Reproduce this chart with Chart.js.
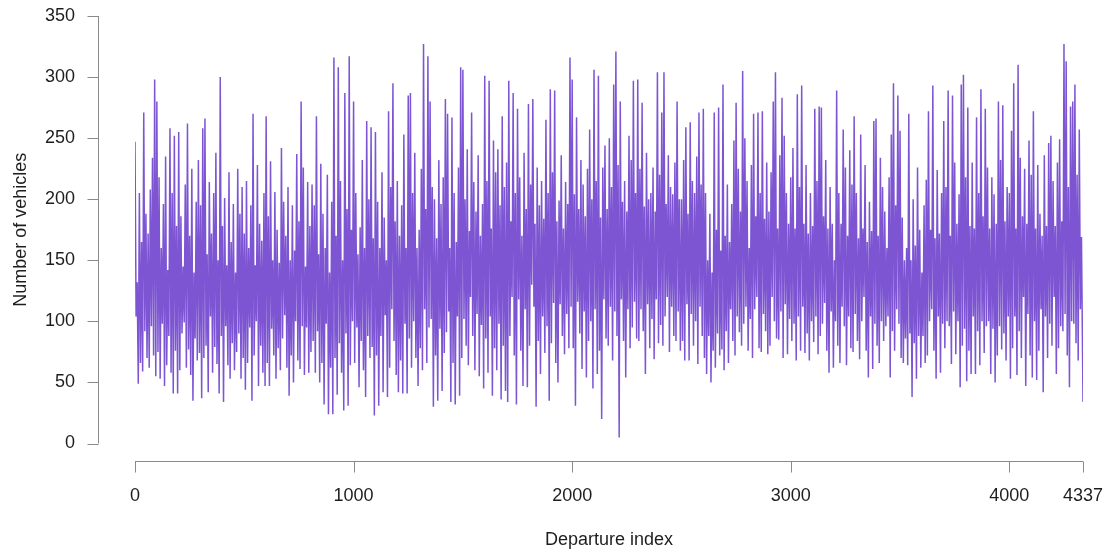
<!DOCTYPE html>
<html>
<head>
<meta charset="utf-8">
<title>Number of vehicles by departure index</title>
<script src="https://cdn.jsdelivr.net/npm/chart.js@4.4.1/dist/chart.umd.min.js"></script>
<style>
  html, body { margin: 0; padding: 0; background: #ffffff; }
  #wrap { width: 1107px; height: 554px; position: relative; }
</style>
</head>
<body>
<div id="wrap"><canvas id="myChart"></canvas></div>
<script>
// vehicles per departure, read in blocks of 10 departures:
// highVehicles = upper reading (departure 10*i), lowVehicles = lower reading (departure 10*i+5)
var highVehicles = [
    247, 132, 205, 165, 271, 188, 172, 208, 234, 298,
    280, 218, 160, 196, 235, 142, 258, 205, 252, 178,
    255, 186, 145, 212, 262, 170, 225, 140, 198, 232,
    195, 258, 266, 155, 214, 172, 205, 238, 150, 300,
    178, 201, 146, 222, 165, 196, 140, 225, 188, 210,
    172, 215, 160, 195, 270, 146, 228, 180, 166, 205,
    268, 186, 231, 150, 206, 175, 148, 242, 198, 170,
    210, 150, 195, 158, 237, 182, 280, 226, 145, 214,
    178, 212, 195, 268, 155, 229, 188, 160, 220, 140,
    198, 316, 170, 308, 215, 150, 287, 192, 317, 175,
    280, 205, 155, 177, 232, 160, 264, 200, 259, 168,
    255, 198, 160, 222, 185, 150, 272, 210, 295, 182,
    215, 170, 195, 253, 160, 285, 287, 205, 238, 160,
    175, 225, 327, 192, 317, 280, 210, 200, 168, 232,
    196, 218, 282, 270, 160, 267, 205, 165, 226, 308,
    306, 200, 241, 174, 271, 214, 190, 236, 170, 196,
    301, 215, 297, 176, 248, 222, 241, 195, 268, 210,
    230, 297, 182, 287, 205, 274, 218, 170, 238, 192,
    278, 212, 282, 180, 226, 195, 215, 184, 265, 205,
    290, 222, 289, 182, 199, 236, 176, 214, 196, 316,
    298, 204, 267, 192, 232, 212, 186, 225, 257, 200,
    306, 215, 301, 185, 226, 244, 192, 250, 210, 294,
    321, 228, 280, 198, 215, 190, 252, 232, 297, 205,
    298, 225, 279, 194, 238, 200, 205, 226, 190, 304,
    220, 271, 304, 196, 236, 210, 204, 230, 280, 200,
    200, 232, 259, 188, 263, 215, 205, 235, 271, 212,
    274, 205, 150, 188, 140, 271, 175, 275, 158, 294,
    170, 212, 165, 196, 248, 279, 225, 190, 305, 250,
    215, 160, 228, 270, 186, 271, 205, 272, 184, 230,
    190, 222, 280, 304, 176, 236, 283, 252, 205, 180,
    218, 242, 176, 286, 210, 293, 180, 228, 172, 205,
    178, 274, 215, 276, 275, 186, 232, 176, 210, 180,
    150, 289, 205, 180, 257, 226, 170, 240, 212, 268,
    205, 168, 253, 176, 228, 165, 198, 174, 264, 266,
    170, 234, 210, 190, 160, 218, 253, 295, 195, 285,
    256, 185, 150, 160, 270, 150, 200, 162, 226, 175,
    140, 195, 216, 272, 175, 293, 168, 224, 172, 205,
    264, 210, 289, 170, 285, 230, 180, 204, 294, 302,
    218, 275, 178, 230, 176, 267, 205, 290, 186, 274,
    226, 176, 218, 204, 180, 280, 232, 277, 182, 210,
    205, 256, 295, 176, 310, 234, 186, 225, 180, 248,
    220, 272, 176, 228, 188, 170, 236, 178, 246, 252,
    215, 178, 230, 249, 182, 327, 313, 210, 276, 280,
    294, 220, 257, 169
];
var lowVehicles = [
    104, 49, 66, 59, 92, 70, 62, 96, 72, 55,
    75, 53, 98, 47, 64, 88, 58, 41, 76, 41,
    60, 90, 99, 62, 77, 56, 35, 86, 68, 74,
    37, 70, 80, 42, 104, 58, 79, 65, 41, 88,
    34, 96, 64, 53, 82, 60, 75, 90, 53, 70,
    44, 66, 95, 35, 72, 100, 47, 80, 58, 47,
    66, 47, 94, 72, 53, 78, 60, 86, 105, 62,
    39, 72, 50, 100, 68, 61, 96, 56, 95, 58,
    75, 84, 58, 92, 50, 66, 32, 98, 24, 62,
    24, 70, 40, 82, 58, 27, 90, 31, 64, 100,
    66, 95, 46, 84, 60, 38, 88, 70, 79, 23,
    72, 31, 88, 42, 105, 38, 62, 110, 84, 56,
    42, 68, 41, 98, 41, 86, 62, 100, 70, 47,
    78, 60, 110, 66, 95, 102, 30, 72, 35, 94,
    43, 74, 91, 108, 34, 66, 32, 104, 39, 70,
    102, 80, 64, 120, 88, 60, 106, 55, 97, 45,
    86, 58, 104, 39, 78, 60, 98, 36, 80, 43,
    34, 88, 120, 72, 32, 118, 76, 47, 110, 46,
    80, 130, 112, 30, 84, 57, 104, 74, 96, 35,
    82, 115, 66, 50, 114, 88, 73, 106, 78, 112,
    78, 31, 116, 90, 61, 108, 54, 84, 100, 45,
    110, 57, 76, 20, 118, 86, 80, 112, 68, 108,
    88, 5, 118, 84, 54, 110, 78, 95, 116, 86,
    84, 110, 92, 57, 114, 78, 102, 69, 118, 82,
    97, 80, 104, 120, 75, 112, 88, 84, 108, 76,
    84, 68, 114, 68, 106, 80, 100, 65, 112, 88,
    70, 57, 88, 50, 76, 62, 90, 72, 77, 60,
    92, 66, 110, 84, 72, 104, 91, 80, 98, 112,
    76, 102, 70, 110, 120, 78, 75, 106, 92, 73,
    80, 120, 100, 86, 85, 108, 70, 114, 73, 102,
    84, 98, 68, 104, 76, 112, 74, 90, 68, 100,
    83, 104, 73, 88, 98, 115, 76, 58, 108, 62,
    100, 80, 66, 112, 96, 64, 104, 78, 75, 106,
    84, 69, 100, 120, 76, 54, 104, 61, 98, 80,
    66, 100, 84, 96, 104, 54, 92, 76, 110, 98,
    70, 66, 86, 64, 90, 38, 82, 53, 88, 62,
    88, 66, 72, 100, 110, 76, 53, 104, 58, 98,
    78, 100, 96, 65, 108, 73, 100, 46, 80, 94,
    51, 76, 57, 104, 57, 92, 64, 100, 74, 96,
    100, 57, 94, 50, 72, 96, 77, 90, 68, 104,
    53, 78, 104, 56, 92, 70, 120, 47, 106, 72,
    54, 100, 52, 76, 110, 42, 104, 70, 98, 80,
    120, 57, 78, 96, 92, 106, 72, 46, 100, 98,
    82, 68, 110, 34
];
var lastDeparture = 4337;
var xTicks = [0, 1000, 2000, 3000, 4000, 4337];
var yTicks = [0, 50, 100, 150, 200, 250, 300, 350];
var xTitle = 'Departure index';
var yTitle = 'Number of vehicles';

document.addEventListener('DOMContentLoaded', function () {
    var ctx = document.getElementById('myChart').getContext('2d');

    var points = [];
    for (var i = 0; i < highVehicles.length; i++) {
        points.push({ x: i * 10, y: highVehicles[i] });
        var lx = (i === highVehicles.length - 1) ? lastDeparture : i * 10 + 5;
        points.push({ x: lx, y: lowVehicles[i] });
    }

    var textColor = '#1e1e1e';
    var axisColor = '#8a8a8a';
    var font = { family: '"Liberation Sans", Arial, Helvetica, sans-serif', size: 18 };

    // R-like detached axes
    var rAxes = {
        id: 'rAxes',
        afterDraw: function (chart) {
            var c = chart.ctx;
            var xs = chart.scales.x, ys = chart.scales.y;
            var area = chart.chartArea;
            var ax = Math.round(area.left - 37.5) + 0.5;
            var ay = Math.round(area.bottom + 17.5) + 0.5;
            c.save();
            c.strokeStyle = axisColor;
            c.lineWidth = 1;
            c.beginPath();
            c.moveTo(ax, ys.getPixelForValue(yTicks[0]));
            c.lineTo(ax, ys.getPixelForValue(yTicks[yTicks.length - 1]));
            yTicks.forEach(function (t) {
                var py = Math.round(ys.getPixelForValue(t)) + 0.5;
                c.moveTo(ax, py);
                c.lineTo(ax - 11, py);
            });
            c.moveTo(xs.getPixelForValue(xTicks[0]), ay);
            c.lineTo(xs.getPixelForValue(xTicks[xTicks.length - 1]), ay);
            xTicks.forEach(function (t) {
                var px = Math.round(xs.getPixelForValue(t)) + 0.5;
                c.moveTo(px, ay);
                c.lineTo(px, ay + 11);
            });
            c.stroke();
            c.restore();
        }
    };

    var myChart = new Chart(ctx, {
        type: 'line',
        data: {
            datasets: [{
                label: yTitle,
                data: points,
                borderColor: '#7d55d3',
                borderWidth: 1.5,
                pointRadius: 0,
                tension: 0,
                fill: false
            }]
        },
        options: {
            responsive: true,
            maintainAspectRatio: false,
            animation: false,
            devicePixelRatio: 1,
            layout: { padding: { top: 16, right: 24, left: 0, bottom: 0 } },
            plugins: {
                legend: { display: false },
                tooltip: { enabled: false }
            },
            scales: {
                x: {
                    type: 'linear',
                    min: 0,
                    max: lastDeparture,
                    grid: { display: false, drawTicks: true, tickLength: 39 },
                    border: { display: false },
                    afterBuildTicks: function (scale) {
                        scale.ticks = xTicks.map(function (v) { return { value: v }; });
                    },
                    afterFit: function (scale) { scale.height = 110.5; },
                    ticks: {
                        autoSkip: false,
                        maxRotation: 0,
                        padding: 3,
                        color: textColor,
                        font: font,
                        callback: function (v) { return String(v); }
                    },
                    title: {
                        display: true,
                        text: xTitle,
                        color: textColor,
                        font: font,
                        padding: { top: 0, bottom: 3 }
                    }
                },
                y: {
                    min: 0,
                    max: 350,
                    grid: { display: false, drawTicks: true, tickLength: 57 },
                    border: { display: false },
                    afterBuildTicks: function (scale) {
                        scale.ticks = yTicks.map(function (v) { return { value: v }; });
                    },
                    afterFit: function (scale) { scale.width = 135; },
                    ticks: {
                        padding: 3,
                        color: textColor,
                        font: font
                    },
                    title: {
                        display: true,
                        text: yTitle,
                        color: textColor,
                        font: font,
                        padding: { top: 10, bottom: 0 }
                    }
                }
            }
        },
        plugins: [rAxes]
    });
});
</script>
</body>
</html>
